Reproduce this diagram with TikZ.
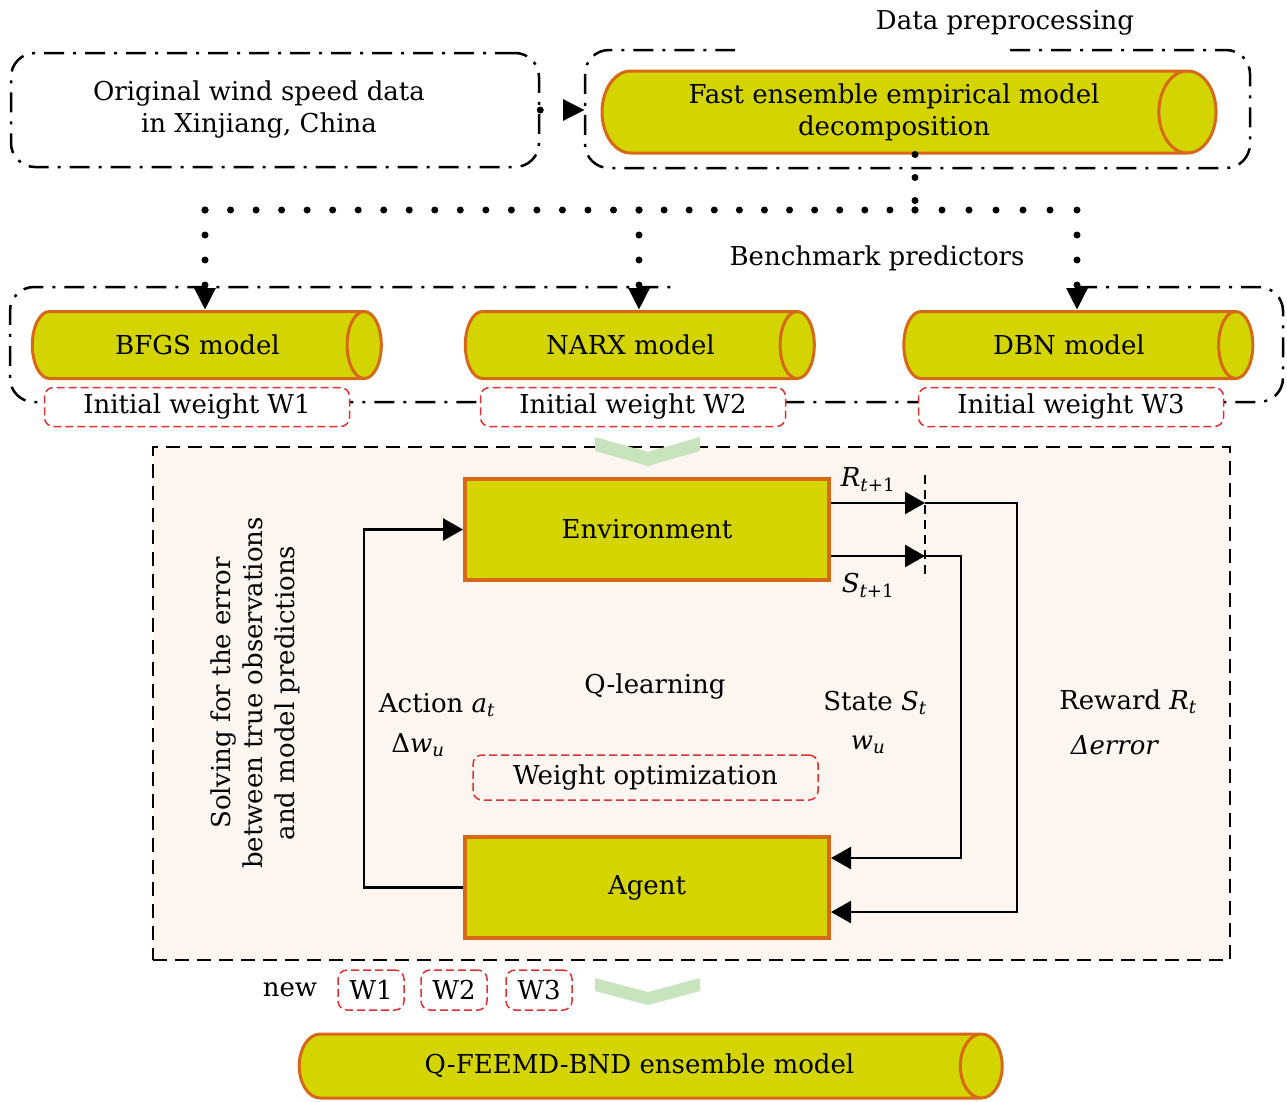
\documentclass[tikz,border=0pt]{standalone}
\usepackage{fontspec}
\setmainfont{DejaVu Serif}
\usetikzlibrary{shapes.geometric,arrows.meta}
\definecolor{cyell}{RGB}{212,212,0}
\definecolor{borange}{RGB}{214,104,24}
\definecolor{peach}{RGB}{253,245,239}
\definecolor{chevg}{RGB}{200,228,190}
\definecolor{wred}{RGB}{220,50,50}
\begin{document}
\begin{tikzpicture}[x=1pt,y=-1pt,
  every node/.style={font=\fontsize{26}{32}\selectfont},
  cyl/.style={cylinder, shape border rotate=0, draw=borange, line width=3pt, cylinder uses custom fill, cylinder body fill=cyell, cylinder end fill=cyell, aspect=1.7, inner sep=0pt, align=center},
  dashdot/.style={line width=2.5pt, dash pattern=on 20pt off 9pt on 3pt off 9pt, rounded corners=24pt},
  dotline/.style={line width=7pt, line cap=round, dash pattern=on 0pt off #1},
  dotline/.default=25pt,
  dtip/.style={-{Triangle[length=22pt,width=20pt]}},
  wbox/.style={draw=wred, dash pattern=on 8pt off 4pt, line width=1.5pt, rounded corners=9pt, fill=white, inner sep=0pt},
  qnode/.style={rectangle, draw=borange, fill=cyell, line width=4pt, minimum width=364pt, minimum height=101pt, inner sep=0pt},
  flow/.style={line width=2.5pt, -{Triangle[length=20pt,width=22pt]}},
  chev/.style={fill=chevg, draw=none}
]
\useasboundingbox (0,0) rectangle (1287,1101);

% ---------- top row ----------
\node[draw, dashdot, minimum width=528pt, minimum height=114pt] (orig) at (275,110) {};
\node[align=center] (origtxt) at (259,110) {Original wind speed data\\in Xinjiang, China};
\draw[dashdot] (1010,50) -- (1250,50) -- (1250,168) -- (585,168) -- (585,50) -- (735,50);
\coordinate (pre) at (585,110);
\node (prelab) at (1005,23) {Data preprocessing};
\node[cyl, aspect=1, minimum height=614pt, minimum width=82pt] (feemd) at (894,112) {Fast ensemble empirical model\\decomposition};
\draw[dotline, dtip] (orig.east) -- (pre);

% ---------- benchmark predictors ----------
\draw[dashdot] (1077,287) -- (1283,287) -- (1283,402) -- (10,402) -- (10,287) -- (677,287);
\node (benchlab) at (877,258) {Benchmark predictors};
\node[cyl, minimum height=349pt, minimum width=67pt] (bfgs) at (197.5,345) {BFGS model};
\node[cyl, minimum height=349pt, minimum width=67pt] (narx) at (630.5,345) {NARX model};
\node[cyl, minimum height=349pt, minimum width=67pt] (dbn) at (1069,345) {DBN model};
\coordinate (jt) at (915,210);
\coordinate (jb) at (205,210);
\coordinate (jn) at (639,210);
\coordinate (jd) at (1077,210);
\draw[dotline=23pt] (feemd.south -| jt) -- (jt);
\draw[dotline=25.53pt] (jb) -- (jn);
\draw[dotline=25.09pt] (jn) -- (jt);
\draw[dotline=27pt] (jt) -- (jd);
\draw[dotline, dtip] (jb) -- (jb |- bfgs.north);
\draw[dotline, dtip] (jn) -- (jn |- narx.north);
\draw[dotline, dtip] (jd) -- (jd |- dbn.north);
\node[wbox, minimum width=305pt, minimum height=39pt] (w1i) at (197,407) {Initial weight W1};
\node[wbox, minimum width=305pt, minimum height=39pt] (w2i) at (633,407) {Initial weight W2};
\node[wbox, minimum width=305pt, minimum height=39pt] (w3i) at (1071,407) {Initial weight W3};

% ---------- Q-learning block ----------
\node[draw, fill=peach, line width=2pt, dash pattern=on 14pt off 8pt, minimum width=1077pt, minimum height=513pt, inner sep=0pt] (qbox) at (691.5,703.5) {};
\fill[chev] (595,437) -- (648,452) -- (700,437) -- (700,451) -- (648,466) -- (595,451) -- cycle;
\node[qnode] (env) at (647,529.5) {Environment};
\node[qnode] (agent) at (647,887.5) {Agent};
\coordinate (rt) at (925,503);
\coordinate (st) at (925,556);
\draw[line width=1.5pt, dash pattern=on 9pt off 6pt] (925,475) -- (925,580);
\draw[flow] (env.east |- rt) -- (rt);
\draw[flow] (rt) -- (1017,503) |- ([yshift=-24.5pt]agent.east);
\draw[flow] (env.east |- st) -- (st);
\draw[flow] (st) -- (961,556) |- ([yshift=29.5pt]agent.east);
\draw[flow] (agent.west) -- (364,887.5) |- (env.west);
\node (rlab) at (868,480) {\textit{R}\textsubscript{\textit{t}+1}};
\node (slab) at (868,585) {\textit{S}\textsubscript{\textit{t}+1}};
\node (alab) at (437,705) {Action \textit{a}\textsubscript{\textit{t}}};
\node (dwlab) at (418,745) {Δ\textit{w}\textsubscript{\textit{u}}};
\node (qlab) at (655,686) {Q-learning};
\node (stlab) at (875,703) {State \textit{S}\textsubscript{\textit{t}}};
\node (wulab) at (868,745) {\textit{w}\textsubscript{\textit{u}}};
\node (rwlab) at (1128,702) {Reward \textit{R}\textsubscript{\textit{t}}};
\node (errlab) at (1115,745) {\textit{Δerror}};
\node[wbox, fill=none, minimum width=345pt, minimum height=45pt] (wopt) at (645.5,777.5) {Weight optimization};
\node[rotate=90, align=center] (solve) at (255,693) {Solving for the error\\between true observations\\and model predictions};

% ---------- bottom ----------
\node (newlab) at (290,990) {new};
\node[wbox, minimum width=66pt, minimum height=40pt] (w1n) at (371,990) {W1};
\node[wbox, minimum width=66pt, minimum height=40pt] (w2n) at (454,990) {W2};
\node[wbox, minimum width=66pt, minimum height=40pt] (w3n) at (539,990) {W3};
\fill[chev] (595,978) -- (648,992) -- (700,978) -- (700,991) -- (648,1005) -- (595,991) -- cycle;
\node[cyl, aspect=1.75, minimum height=703pt, minimum width=64pt] (final) at (639.5,1066) {Q-FEEMD-BND ensemble model};
\end{tikzpicture}
\end{document}
